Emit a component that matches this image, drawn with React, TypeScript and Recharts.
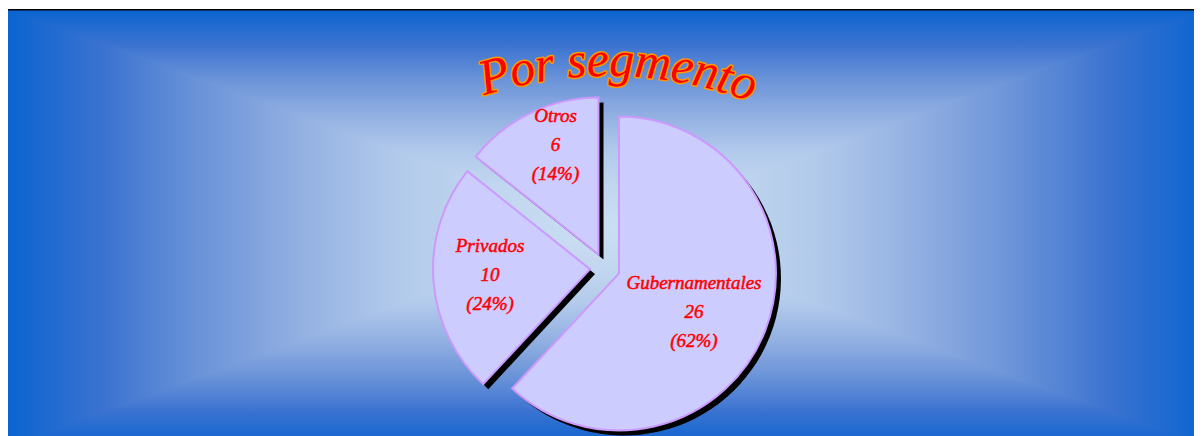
import React from "react";
import { PieChart, Pie, Cell } from "recharts";

// ---- data ----
const segmentNames = ["Gubernamentales", "Privados", "Otros"];
const segmentCounts = [26, 10, 6];
const chartTitle = "Por segmento";

// ---- layout / style ----
const W = 1196;
const H = 427;
// the framed box runs a little past the page, the gradient is sized on that box
const BG_W = 1202;
const BG_H = 438;

const PIE_CX = 599;
const PIE_CY = 259;
const PIE_R = 157;
const EXPLODE = 15;
const SHADOW = 5;
const SLICE_FILL = "#ccccff";
const SLICE_STROKE = "#cc99ff";
const LABEL_RED = "#ff0000";
const LINE_GAP = 29;

// label block centre, relative to each (exploded) slice centre
const LABEL_OFFSETS = [
  { dx: 75, dy: 38 },
  { dx: -100, dy: 5 },
  { dx: -43, dy: -110 },
];

// edge -> centre colour ramp of the "from centre" background
const BG_RAMP: [number, string][] = [
  [0, "#0a64d0"],
  [0.16, "#3a72d0"],
  [0.32, "#6a93d8"],
  [0.49, "#93b0e2"],
  [0.66, "#b3cbeb"],
  [0.82, "#c2d7ef"],
  [1, "#cadef3"],
];

const RAD = Math.PI / 180;

const data = segmentNames.map((name, i) => ({ name, value: segmentCounts[i] }));
const total = segmentCounts.reduce((a, b) => a + b, 0);

// mid angle of every slice (recharts goes clockwise from 12 o'clock here)
const midAngles: number[] = (() => {
  let cum = 0;
  return segmentCounts.map((v) => {
    const m = 90 - (360 * (cum + v / 2)) / total;
    cum += v;
    return m;
  });
})();

const sliceCentres = midAngles.map((m) => ({
  x: PIE_CX + EXPLODE * Math.cos(m * RAD),
  y: PIE_CY - EXPLODE * Math.sin(m * RAD),
}));

function rampStops(prefix: string) {
  // mirror the ramp so the gradient goes edge -> centre -> edge
  const stops: { o: number; c: string }[] = [];
  BG_RAMP.forEach(([t, c]) => stops.push({ o: t / 2, c }));
  [...BG_RAMP].reverse().forEach(([t, c]) => stops.push({ o: 1 - t / 2, c }));
  return stops.map((s, i) => (
    <stop key={prefix + i} offset={s.o} stopColor={s.c} />
  ));
}

const titleFont: React.CSSProperties = {
  fontFamily: "Liberation Serif",
  fontStyle: "italic",
  fontWeight: 400,
  fontSize: 50,
  paintOrder: "stroke",
};

function Background() {
  const cx = BG_W / 2;
  const cy = BG_H / 2;
  // title baseline arc
  const ax = 602;
  const ay = 471;
  const ar = 404;
  const x0 = 478;
  const x1 = 750;
  const y0 = ay - Math.sqrt(ar * ar - (x0 - ax) ** 2);
  const y1 = ay - Math.sqrt(ar * ar - (x1 - ax) ** 2);
  return (
    <svg width={W} height={H} style={{ position: "absolute", left: 0, top: 0 }}>
      <defs>
        <linearGradient id="bgH" gradientUnits="userSpaceOnUse" x1={0} y1={0} x2={BG_W} y2={0}>
          {rampStops("h")}
        </linearGradient>
        <linearGradient id="bgV" gradientUnits="userSpaceOnUse" x1={0} y1={0} x2={0} y2={BG_H}>
          {rampStops("v")}
        </linearGradient>
        <path id="titleArc" d={`M ${x0} ${y0} A ${ar} ${ar} 0 0 1 ${x1} ${y1}`} fill="none" />
      </defs>
      <rect x={0} y={0} width={BG_W} height={BG_H} fill="url(#bgH)" />
      <polygon points={`0,0 ${BG_W},0 ${cx},${cy}`} fill="url(#bgV)" />
      <polygon points={`0,${BG_H} ${BG_W},${BG_H} ${cx},${cy}`} fill="url(#bgV)" />
      <rect x={0} y={0} width={2} height={H} fill="#000" />
      <rect x={0} y={0} width={W} height={1.5} fill="#000" />
      <text
        fill="#ff0000"
        stroke="#ff9900"
        strokeWidth={3}
        strokeLinejoin="round"
        style={titleFont}
      >
        <textPath href="#titleArc" textLength={272} lengthAdjust="spacing" style={titleFont}>
          {chartTitle}
        </textPath>
      </text>
    </svg>
  );
}

function makeLabel(sliceIdx: number) {
  return (props: any) => {
    if (props.index !== sliceIdx) return null;
    const c = sliceCentres[sliceIdx];
    const off = LABEL_OFFSETS[sliceIdx];
    const x = c.x + off.dx;
    const y = c.y + off.dy;
    const pct = Math.round((props.value / total) * 100);
    return (
      <text
        x={x}
        y={y}
        textAnchor="middle"
        dominantBaseline="central"
        fill={LABEL_RED}
        stroke={LABEL_RED}
        strokeWidth={0.5}
        fontFamily="'Liberation Serif', serif"
        fontStyle="italic"
        fontSize={19}
      >
        <tspan x={x} y={y - LINE_GAP}>{props.name}</tspan>
        <tspan x={x} y={y}>{props.value}</tspan>
        <tspan x={x} y={y + LINE_GAP}>({pct}%)</tspan>
      </text>
    );
  };
}

export default function App() {
  return (
    <div style={{ position: "relative", width: W, height: H, marginLeft: -2, marginTop: 1 }}>
      <Background />
      <div style={{ position: "absolute", left: 0, top: 0 }}>
        <PieChart width={W} height={H} margin={{ top: 0, right: 0, bottom: 0, left: 0 }}>
          {/* drop shadows */}
          {data.map((_, i) => (
            <Pie
              key={"shadow" + i}
              data={data}
              dataKey="value"
              nameKey="name"
              cx={sliceCentres[i].x + SHADOW}
              cy={sliceCentres[i].y + SHADOW}
              outerRadius={PIE_R}
              startAngle={90}
              endAngle={-270}
              stroke="none"
              labelLine={false}
              isAnimationActive={false}
            >
              {data.map((d, j) => (
                <Cell key={d.name} fill={j === i ? "#000000" : "none"} stroke="none" />
              ))}
            </Pie>
          ))}
          {/* exploded slices */}
          {data.map((_, i) => (
            <Pie
              key={"slice" + i}
              data={data}
              dataKey="value"
              nameKey="name"
              cx={sliceCentres[i].x}
              cy={sliceCentres[i].y}
              outerRadius={PIE_R}
              startAngle={90}
              endAngle={-270}
              labelLine={false}
              label={makeLabel(i)}
              isAnimationActive={false}
            >
              {data.map((d, j) => (
                <Cell
                  key={d.name}
                  fill={j === i ? SLICE_FILL : "none"}
                  stroke={j === i ? SLICE_STROKE : "none"}
                  strokeWidth={2}
                />
              ))}
            </Pie>
          ))}
        </PieChart>
      </div>
    </div>
  );
}
